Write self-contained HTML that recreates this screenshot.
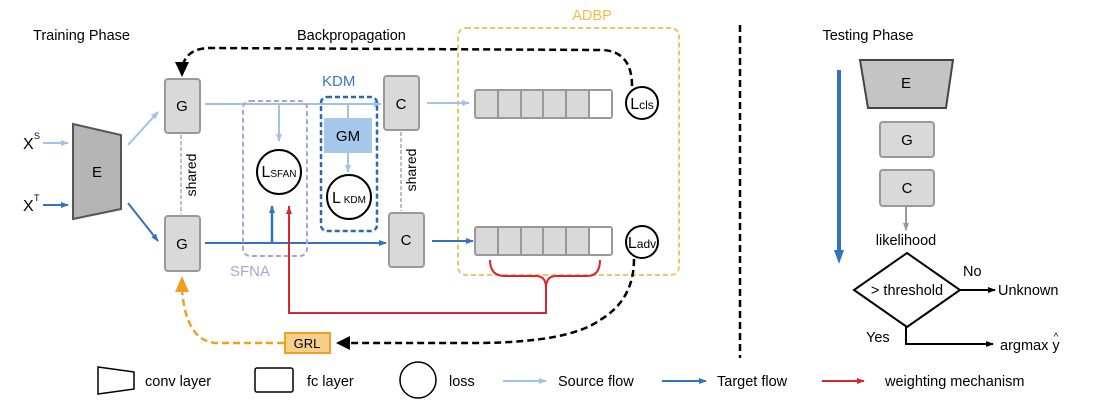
<!DOCTYPE html>
<html><head><meta charset="utf-8"><style>
html,body{margin:0;padding:0;background:#fff}
svg{display:block;font-family:"Liberation Sans",Arial,sans-serif}
</style></head><body>
<svg width="1104" height="420" viewBox="0 0 1104 420" xmlns="http://www.w3.org/2000/svg">
<defs>
<marker id="al" markerWidth="8" markerHeight="8" refX="7" refY="4" orient="auto" markerUnits="userSpaceOnUse"><path d="M0,1 L8,4 L0,7 z" fill="#9fc3e8"/></marker>
<marker id="ad" markerWidth="8" markerHeight="8" refX="7" refY="4" orient="auto" markerUnits="userSpaceOnUse"><path d="M0,1 L8,4 L0,7 z" fill="#3173bf"/></marker>
<marker id="ar" markerWidth="8" markerHeight="8" refX="7" refY="4" orient="auto" markerUnits="userSpaceOnUse"><path d="M0,1 L8,4 L0,7 z" fill="#d7262e"/></marker>
<marker id="ag" markerWidth="8" markerHeight="8" refX="7" refY="4" orient="auto" markerUnits="userSpaceOnUse"><path d="M0,1 L8,4 L0,7 z" fill="#999"/></marker>
<marker id="ak" markerWidth="8" markerHeight="8" refX="7" refY="4" orient="auto" markerUnits="userSpaceOnUse"><path d="M0,1 L8,4 L0,7 z" fill="#000"/></marker>
</defs>

<text x="33" y="40" font-size="14.5">Training Phase</text>
<text x="297" y="40" font-size="14.5">Backpropagation</text>
<text x="592" y="20" font-size="14.5" fill="#f5b942" text-anchor="middle">ADBP</text>
<text x="868" y="40" font-size="14.5" text-anchor="middle">Testing Phase</text>

<rect x="458" y="28" width="221" height="247" rx="8" fill="none" stroke="#f5c26b" stroke-width="2" stroke-dasharray="5,3"/>
<line x1="740" y1="25" x2="740" y2="358" stroke="#000" stroke-width="2.5" stroke-dasharray="7,4"/>

<text x="23" y="149" font-size="16">X</text><text x="34" y="139" font-size="9">S</text>
<line x1="43" y1="143" x2="68" y2="143" stroke="#9fc3e8" stroke-width="2" marker-end="url(#al)"/>
<text x="23" y="211" font-size="16">X</text><text x="34" y="201" font-size="9">T</text>
<line x1="43" y1="205" x2="68" y2="205" stroke="#3173bf" stroke-width="2" marker-end="url(#ad)"/>

<polygon points="73,124 121,135 121,209 73,219" fill="#b5b5b5" stroke="#555" stroke-width="2"/>
<text x="97" y="177" font-size="15" text-anchor="middle">E</text>
<line x1="128" y1="145" x2="158" y2="112" stroke="#9fc3e8" stroke-width="2" marker-end="url(#al)"/>
<line x1="128" y1="203" x2="158" y2="241" stroke="#3173bf" stroke-width="2" marker-end="url(#ad)"/>

<rect x="165" y="79" width="35" height="54" rx="3" fill="#d9d9d9" stroke="#999" stroke-width="2"/>
<text x="182" y="111" font-size="15" text-anchor="middle">G</text>
<rect x="165" y="216" width="35" height="55" rx="3" fill="#d9d9d9" stroke="#999" stroke-width="2"/>
<text x="182" y="249" font-size="15" text-anchor="middle">G</text>
<line x1="181" y1="135" x2="181" y2="214" stroke="#aaa" stroke-width="1.5" stroke-dasharray="4,2"/>
<text transform="translate(196,175) rotate(-90)" font-size="14" text-anchor="middle">shared</text>

<rect x="384" y="76" width="35" height="54" rx="3" fill="#d9d9d9" stroke="#999" stroke-width="2"/>
<text x="401" y="109" font-size="15" text-anchor="middle">C</text>
<rect x="389" y="213" width="35" height="54" rx="3" fill="#d9d9d9" stroke="#999" stroke-width="2"/>
<text x="406" y="245" font-size="15" text-anchor="middle">C</text>
<line x1="401" y1="132" x2="401" y2="211" stroke="#aaa" stroke-width="1.5" stroke-dasharray="4,2"/>
<text transform="translate(416,170) rotate(-90)" font-size="14" text-anchor="middle">shared</text>

<line x1="205" y1="104" x2="381" y2="104" stroke="#9fc3e8" stroke-width="2" marker-end="url(#al)"/>
<line x1="205" y1="243" x2="386" y2="243" stroke="#3173bf" stroke-width="2" marker-end="url(#ad)"/>
<line x1="427" y1="103" x2="469" y2="103" stroke="#9fc3e8" stroke-width="2" marker-end="url(#al)"/>
<line x1="432" y1="241" x2="473" y2="241" stroke="#3173bf" stroke-width="2" marker-end="url(#ad)"/>

<rect x="243" y="101" width="64" height="155" rx="7" fill="none" stroke="#a9a3d6" stroke-width="2" stroke-dasharray="5,3"/>
<text x="230" y="276" font-size="15" fill="#a9a3d6">SFNA</text>
<line x1="279" y1="104" x2="279" y2="141" stroke="#9fc3e8" stroke-width="2" marker-end="url(#al)"/>
<circle cx="279" cy="172" r="22" fill="#fff" stroke="#000" stroke-width="2"/>
<text x="279" y="177" text-anchor="middle"><tspan font-size="16">L</tspan><tspan font-size="10">SFAN</tspan></text>
<line x1="272" y1="243" x2="272" y2="206" stroke="#3173bf" stroke-width="2.5" marker-end="url(#ad)"/>

<text x="322" y="86" font-size="15" fill="#3a78c3">KDM</text>
<rect x="321" y="97" width="56" height="134" rx="6" fill="none" stroke="#2f66b0" stroke-width="2.5" stroke-dasharray="5,3"/>
<line x1="348" y1="104" x2="348" y2="118" stroke="#9fc3e8" stroke-width="2"/>
<rect x="324" y="118" width="48" height="35" fill="#a5c8ea"/>
<text x="348" y="141" font-size="15" text-anchor="middle">GM</text>
<line x1="348" y1="153" x2="348" y2="172" stroke="#9fc3e8" stroke-width="2" marker-end="url(#al)"/>
<circle cx="349" cy="197" r="22" fill="#fff" stroke="#000" stroke-width="2"/>
<text x="349" y="203" text-anchor="middle"><tspan font-size="16">L</tspan><tspan font-size="10"> KDM</tspan></text>

<path d="M289,206 L289,313 L546,313 L546,288" fill="none" stroke="#d7262e" stroke-width="2"/>
<line x1="289" y1="313" x2="289" y2="207" stroke="#d7262e" stroke-width="2" marker-end="url(#ar)"/>
<path d="M490,260 Q490,276 505,276 L536,276 Q546,276 546,288 Q546,276 556,276 L587,276 Q600,276 600,260" fill="none" stroke="#d7262e" stroke-width="2"/>

<g stroke="#999" stroke-width="2">
<rect x="475" y="90" width="137" height="28" rx="2" fill="#d9d9d9"/>
<rect x="589" y="91" width="22" height="26" fill="#fff" stroke="none"/>
<line x1="498" y1="90" x2="498" y2="118"/><line x1="521" y1="90" x2="521" y2="118"/><line x1="543" y1="90" x2="543" y2="118"/><line x1="566" y1="90" x2="566" y2="118"/><line x1="589" y1="90" x2="589" y2="118"/>
<rect x="475" y="227" width="137" height="28" rx="2" fill="#d9d9d9"/>
<rect x="589" y="228" width="22" height="26" fill="#fff" stroke="none"/>
<line x1="498" y1="227" x2="498" y2="255"/><line x1="521" y1="227" x2="521" y2="255"/><line x1="543" y1="227" x2="543" y2="255"/><line x1="566" y1="227" x2="566" y2="255"/><line x1="589" y1="227" x2="589" y2="255"/>
</g>
<circle cx="642" cy="103" r="16" fill="#fff" stroke="#000" stroke-width="2"/>
<text x="642" y="109" text-anchor="middle"><tspan font-size="16">L</tspan><tspan font-size="12">cls</tspan></text>
<circle cx="642" cy="242" r="16" fill="#fff" stroke="#000" stroke-width="2"/>
<text x="642" y="248" text-anchor="middle"><tspan font-size="16">L</tspan><tspan font-size="12">adv</tspan></text>

<path d="M632,86 Q632,50 600,50 L210,48 Q186,48 182,68" fill="none" stroke="#000" stroke-width="2.5" stroke-dasharray="7,4"/>
<polygon points="175,62 189,62 182,77" fill="#000"/>
<path d="M634,259 Q634,300 600,320 Q570,342 480,343 L350,343" fill="none" stroke="#000" stroke-width="2.5" stroke-dasharray="7,4"/>
<polygon points="336,343 350,336 350,350" fill="#000"/>
<rect x="285" y="333" width="45" height="20" fill="#f6cf8a" stroke="#f0a020" stroke-width="2"/>
<text x="307" y="348" font-size="13" text-anchor="middle">GRL</text>
<path d="M284,343 L215,343 Q186,340 182,290" fill="none" stroke="#f0a020" stroke-width="2.5" stroke-dasharray="7,4"/>
<polygon points="175,292 189,292 182,276" fill="#f0a020"/>

<line x1="839" y1="70" x2="839" y2="255" stroke="#3173bf" stroke-width="4"/>
<polygon points="834,250 844,250 839,264" fill="#3173bf"/>
<polygon points="860,60 953,60 946,108 868,108" fill="#c4c4c4" stroke="#444" stroke-width="2"/>
<text x="906" y="88" font-size="15" text-anchor="middle">E</text>
<rect x="880" y="122" width="54" height="35" rx="3" fill="#d9d9d9" stroke="#999" stroke-width="2"/>
<text x="907" y="145" font-size="15" text-anchor="middle">G</text>
<rect x="880" y="170" width="54" height="36" rx="3" fill="#d9d9d9" stroke="#999" stroke-width="2"/>
<text x="907" y="193" font-size="15" text-anchor="middle">C</text>
<line x1="906" y1="206" x2="906" y2="230" stroke="#999" stroke-width="2" marker-end="url(#ag)"/>
<text x="906" y="245" font-size="14.5" text-anchor="middle">likelihood</text>
<polygon points="907,253 960,290 907,327 854,290" fill="#fff" stroke="#000" stroke-width="2"/>
<text x="907" y="295" font-size="14.5" text-anchor="middle">&gt; threshold</text>
<line x1="960" y1="290" x2="995" y2="290" stroke="#000" stroke-width="2" marker-end="url(#ak)"/>
<text x="963" y="276" font-size="14.5">No</text>
<text x="998" y="295" font-size="14.5">Unknown</text>
<path d="M906,327 L906,344 L993,344" fill="none" stroke="#000" stroke-width="2" marker-end="url(#ak)"/>
<text x="866" y="342" font-size="14.5">Yes</text>
<text x="1000" y="350" font-size="14.5">argmax</text>
<text x="1056" y="350" font-size="14.5" text-anchor="middle">y</text><text x="1056" y="340" font-size="10" text-anchor="middle">^</text>

<polygon points="98,367 134,372 134,389 98,394" fill="#fff" stroke="#000" stroke-width="1.5"/>
<text x="145" y="386" font-size="14.5">conv layer</text>
<rect x="255" y="368" width="38" height="24" rx="2" fill="#fff" stroke="#000" stroke-width="1.5"/>
<text x="307" y="386" font-size="14.5">fc layer</text>
<circle cx="418" cy="380" r="18" fill="#fff" stroke="#000" stroke-width="1.5"/>
<text x="449" y="386" font-size="14.5">loss</text>
<line x1="503" y1="381" x2="546" y2="381" stroke="#9fc3e8" stroke-width="2" marker-end="url(#al)"/>
<text x="558" y="386" font-size="14.5">Source flow</text>
<line x1="662" y1="381" x2="706" y2="381" stroke="#3173bf" stroke-width="2" marker-end="url(#ad)"/>
<text x="717" y="386" font-size="14.5">Target flow</text>
<line x1="822" y1="381" x2="864" y2="381" stroke="#d7262e" stroke-width="2" marker-end="url(#ar)"/>
<text x="885" y="386" font-size="14.5">weighting mechanism</text>
</svg>
</body></html>
